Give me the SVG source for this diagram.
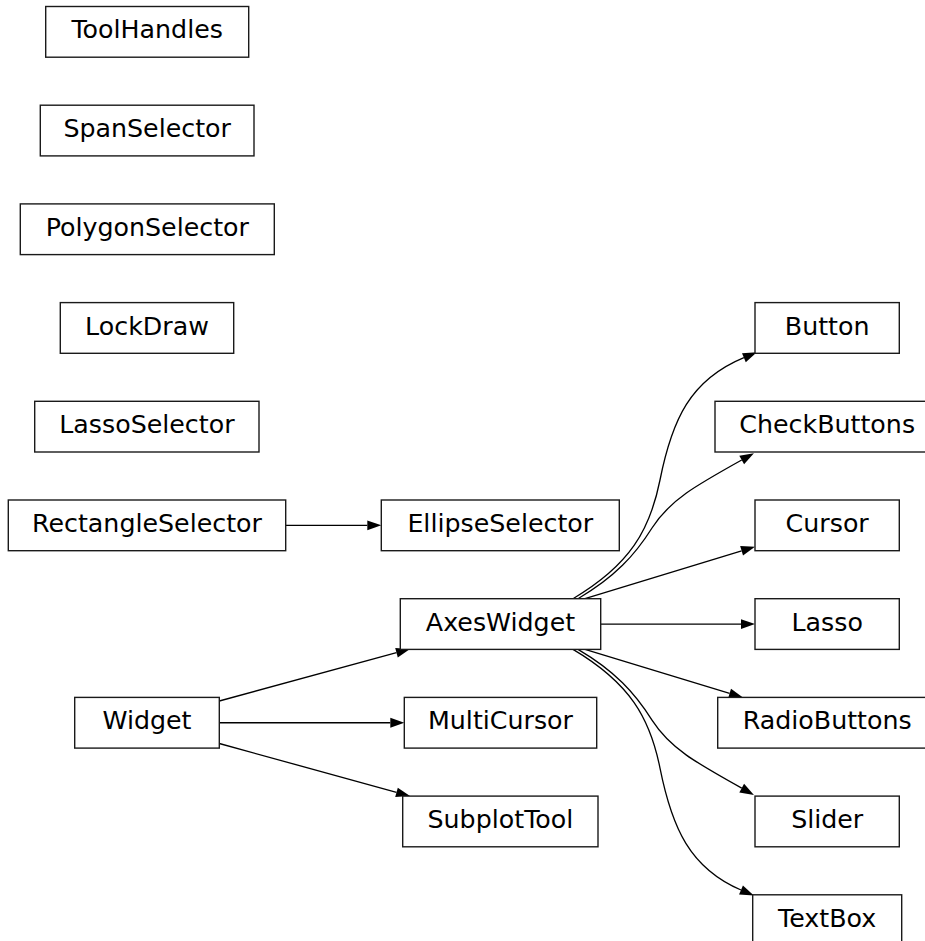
<svg xmlns="http://www.w3.org/2000/svg" width="925" height="941" viewBox="0 0 925 941">
  <style>
    .node rect { fill: #ffffff; stroke: #1a1a1a; stroke-width: 1.4; }
    .node text { font-family: "DejaVu Sans", "Noto Sans", sans-serif; font-size: 25.3px; fill: #000; text-anchor: middle; }
    .edge { fill: none; stroke: #000; stroke-width: 1.3; marker-end: url(#arrow); }
  </style>
  <defs>
    <marker id="arrow" markerUnits="userSpaceOnUse" markerWidth="14" markerHeight="10" viewBox="0 0 14 10" refX="0" refY="5" orient="auto" overflow="visible">
      <path d="M0,0.1 L14,5 L0,9.9 z" fill="#000"/>
    </marker>
  </defs>

  <rect width="925" height="941" fill="#ffffff"/>

  <!-- connectors -->
  <g id="edges">
    <path class="edge" d="M285.7,525.35 L367.3,525.35"/>
    <path class="edge" d="M219.3,701 L396.5,652.7"/>
    <path class="edge" d="M219.3,722.75 L390.3,722.75"/>
    <path class="edge" d="M219.3,743.5 L396.5,792.4"/>
    <path class="edge" d="M573,598.7 C630,565 650,530 660,480 C672,420 690,380 743.9,357.7"/>
    <path class="edge" d="M578,598.7 C615,577 635,555 652,528 C670,500 695,486 741.7,460"/>
    <path class="edge" d="M585,598.7 L741.6,550.8"/>
    <path class="edge" d="M600.7,624.05 L741,624.05"/>
    <path class="edge" d="M585,649.4 L729.6,693.4"/>
    <path class="edge" d="M578,649.4 C615,671.1 635,693.1 652,720.1 C670,748.1 695,762.1 741.7,788.1"/>
    <path class="edge" d="M573,649.4 C630,683.1 650,718.1 660,768.1 C672,828.1 690,868.1 741,890"/>
  </g>

  <!-- left column -->
  <g id="ToolHandles" class="node">
    <rect x="45.7" y="6.5" width="203" height="50.7"/>
    <text x="147.2" y="38.4">ToolHandles</text>
  </g>
  <g id="SpanSelector" class="node">
    <rect x="40.3" y="105.2" width="213.7" height="50.7"/>
    <text x="147.2" y="137.1">SpanSelector</text>
  </g>
  <g id="PolygonSelector" class="node">
    <rect x="20.3" y="203.9" width="254" height="50.7"/>
    <text x="147.3" y="235.8">PolygonSelector</text>
  </g>
  <g id="LockDraw" class="node">
    <rect x="60.3" y="302.6" width="173.4" height="50.7"/>
    <text x="147" y="334.5">LockDraw</text>
  </g>
  <g id="LassoSelector" class="node">
    <rect x="34.7" y="401.3" width="224.3" height="50.7"/>
    <text x="146.9" y="433.2">LassoSelector</text>
  </g>
  <g id="RectangleSelector" class="node">
    <rect x="8.3" y="500" width="277.4" height="50.7"/>
    <text x="147" y="531.9">RectangleSelector</text>
  </g>
  <g id="Widget" class="node">
    <rect x="74.7" y="697.4" width="144.6" height="50.7"/>
    <text x="147" y="729.3">Widget</text>
  </g>

  <!-- middle column -->
  <g id="EllipseSelector" class="node">
    <rect x="381.3" y="500" width="238" height="50.7"/>
    <text x="500.3" y="531.9">EllipseSelector</text>
  </g>
  <g id="AxesWidget" class="node">
    <rect x="400.3" y="598.7" width="200.4" height="50.7"/>
    <text x="500.5" y="630.6">AxesWidget</text>
  </g>
  <g id="MultiCursor" class="node">
    <rect x="404.3" y="697.4" width="192.4" height="50.7"/>
    <text x="500.5" y="729.3">MultiCursor</text>
  </g>
  <g id="SubplotTool" class="node">
    <rect x="402.7" y="796.1" width="195.3" height="50.7"/>
    <text x="500.4" y="828">SubplotTool</text>
  </g>

  <!-- right column -->
  <g id="Button" class="node">
    <rect x="755" y="302.6" width="144.3" height="50.7"/>
    <text x="827.2" y="334.5">Button</text>
  </g>
  <g id="CheckButtons" class="node">
    <rect x="715" y="401.3" width="224.4" height="50.7"/>
    <text x="827.2" y="433.2">CheckButtons</text>
  </g>
  <g id="Cursor" class="node">
    <rect x="755" y="500" width="144.3" height="50.7"/>
    <text x="827.2" y="531.9">Cursor</text>
  </g>
  <g id="Lasso" class="node">
    <rect x="755" y="598.7" width="144.3" height="50.7"/>
    <text x="827.2" y="630.6">Lasso</text>
  </g>
  <g id="RadioButtons" class="node">
    <rect x="717.7" y="697.4" width="219" height="50.7"/>
    <text x="827.2" y="729.3">RadioButtons</text>
  </g>
  <g id="Slider" class="node">
    <rect x="755" y="796.1" width="144.3" height="50.7"/>
    <text x="827.2" y="828">Slider</text>
  </g>
  <g id="TextBox" class="node">
    <rect x="752.7" y="894.8" width="149" height="50.7"/>
    <text x="827.2" y="926.7">TextBox</text>
  </g>
</svg>
